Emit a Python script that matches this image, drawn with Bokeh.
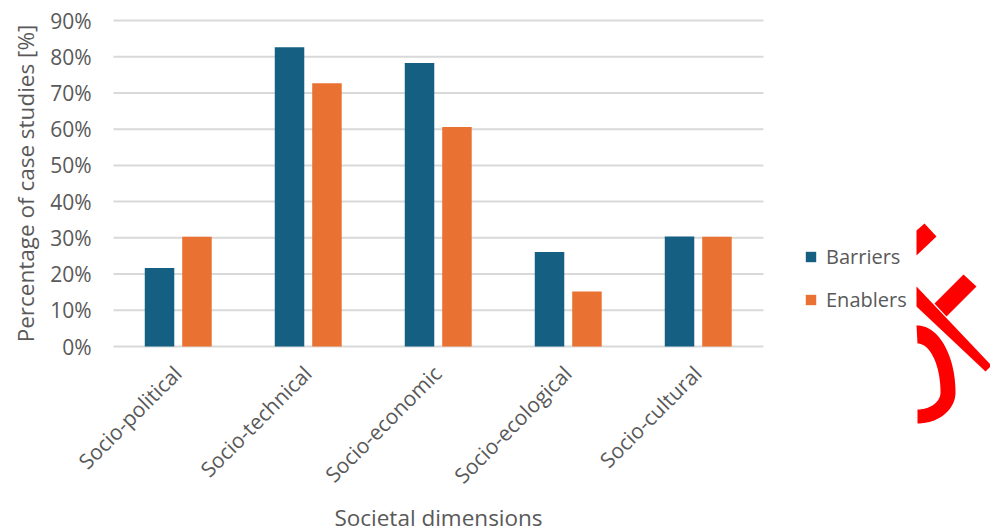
import numpy as np
from bokeh.plotting import figure
from bokeh.models import ColumnDataSource, Range1d, Legend, LegendItem
from bokeh.core.properties import value
from bokeh.transform import dodge
from bokeh.embed import file_html
from bokeh.resources import INLINE

categories = ["Socio-political", "Socio-technical", "Socio-economic", "Socio-ecological", "Socio-cultural"]
barriers = [21.7, 82.6, 78.3, 26.1, 30.4]
enablers = [30.3, 72.7, 60.6, 15.2, 30.3]
y_ticks = [0, 10, 20, 30, 40, 50, 60, 70, 80, 90]
y_tick_labels = [f"{t}%" for t in y_ticks]
x_title = "Societal dimensions"
y_title = "Percentage of case studies [%]"

BLUE = "#156082"
ORANGE = "#E97132"
TEXT = "#595959"
GRID = "#D9D9D9"
FONT = value("Open Sans")

W, H = 990, 532
# plot area: categories span px 113..763, values 0..90 span px 346..20
PX0, PY0, PX_PER_CAT, PY_PER_UNIT = 113.0, 346.0, 130.0, 326.0 / 90.0

n = len(categories)
xpos = [i + 0.5 for i in range(n)]
src = ColumnDataSource(dict(x=xpos, cat=categories, barriers=barriers, enablers=enablers))

p = figure(x_range=Range1d(-PX0 / PX_PER_CAT, (W - PX0) / PX_PER_CAT),
           y_range=Range1d(-(H - PY0) / PY_PER_UNIT, PY0 / PY_PER_UNIT),
           frame_width=W, frame_height=H, min_border=0,
           output_backend="svg", toolbar_location=None, background_fill_color="white",
           border_fill_color="white", outline_line_color=None)
p.axis.visible = False
p.grid.visible = False

# grid lines
p.segment(x0=0, x1=n, y0=y_ticks, y1=y_ticks, line_color=GRID, line_width=2)

# bars
r1 = p.vbar(x=dodge("x", -0.146), top="barriers", width=0.227,
            source=src, color=BLUE, line_color=None)
r2 = p.vbar(x=dodge("x", 0.142), top="enablers", width=0.227,
            source=src, color=ORANGE, line_color=None)

# y tick labels
p.text(x=0, y=y_ticks, text=y_tick_labels, x_offset=-22, text_align="right",
       text_baseline="middle", text_font=FONT, text_font_size="21px", text_color=TEXT)
# category labels (rotated 45 degrees)
p.text(x=xpos, y=0, text=categories, angle=np.pi / 4, x_offset=-1, y_offset=23,
       text_align="right", text_baseline="middle", text_font=FONT,
       text_font_size="21px", text_color=TEXT)
# axis titles
p.text(x=n / 2, y=0, text=[x_title], y_offset=171, text_align="center",
       text_baseline="middle", text_font=FONT, text_font_size="22.5px", text_color=TEXT)
p.text(x=0, y=45, text=[y_title], x_offset=-88, angle=np.pi / 2, text_align="center",
       text_baseline="middle", text_font=FONT, text_font_size="22.5px", text_color=TEXT)

legend = Legend(items=[LegendItem(label="Barriers", renderers=[r1]),
                       LegendItem(label="Enablers", renderers=[r2])],
                location=(804, 219), orientation="vertical",
                label_text_font="Open Sans", label_text_font_size="20px", label_text_color=TEXT,
                glyph_width=13, glyph_height=13, label_height=20, spacing=16,
                label_standoff=9, padding=0, margin=0, border_line_color=None,
                background_fill_alpha=0)
p.add_layout(legend, "center")

# red logo fragment cut at the right edge (decoration; outline given in page pixels)
def to_x(px):
    return [float((v - PX0) / PX_PER_CAT) for v in px]

def to_y(py):
    return [float((PY0 - v) / PY_PER_UNIT) for v in py]

t1 = np.linspace(-np.pi / 2, 0, 30)
t2 = np.linspace(0, np.pi / 2, 30)
outer_x = list(917 + 38 * np.cos(t1)) + list(917 + 38 * np.cos(t2))
outer_y = list(392 + 67 * np.sin(t1)) + list(392 + 31 * np.sin(t2))
inner_x = list(917 + 23 * np.cos(t2[::-1])) + list(917 + 23 * np.cos(t1[::-1]))
inner_y = list(392 + 17 * np.sin(t2[::-1])) + list(392 + 49 * np.sin(t1[::-1]))
logo_px = [[916, 924, 936, 916], [916, 916, 985, 991], [963, 976, 946, 934],
           [916] + outer_x + inner_x]
logo_py = [[230, 223, 236, 255], [286, 306, 371, 365], [274, 286, 316, 303],
           [325] + outer_y + inner_y]
p.patches(xs=[to_x(a) for a in logo_px], ys=[to_y(a) for a in logo_py],
          fill_color="#FF0000", line_color=None)

open("out.html", "w").write(file_html(p, INLINE))
